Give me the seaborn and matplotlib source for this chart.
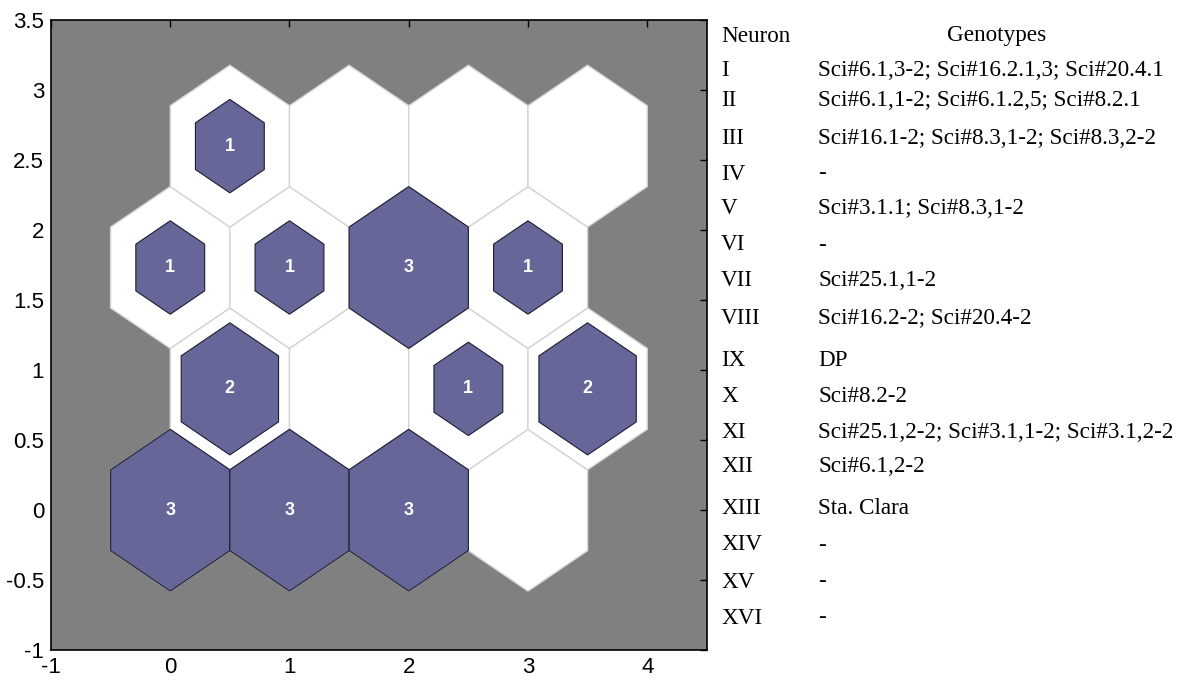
import numpy as np
import matplotlib
matplotlib.use("Agg")
import matplotlib.pyplot as plt
from matplotlib.patches import RegularPolygon
import seaborn as sns

# SOM hits (4x4 hexagonal grid, neuron order row by row from the bottom)
grid_rows = 4
grid_cols = 4
hits = [3, 3, 3, 0,
        2, 0, 1, 2,
        1, 1, 3, 1,
        1, 0, 0, 0]

neuron_labels = ["I", "II", "III", "IV", "V", "VI", "VII", "VIII",
                 "IX", "X", "XI", "XII", "XIII", "XIV", "XV", "XVI"]
genotypes = ["Sci#6.1,3-2; Sci#16.2.1,3; Sci#20.4.1",
             "Sci#6.1,1-2; Sci#6.1.2,5; Sci#8.2.1",
             "Sci#16.1-2; Sci#8.3,1-2; Sci#8.3,2-2",
             "-",
             "Sci#3.1.1; Sci#8.3,1-2",
             "-",
             "Sci#25.1,1-2",
             "Sci#16.2-2; Sci#20.4-2",
             "DP",
             "Sci#8.2-2",
             "Sci#25.1,2-2; Sci#3.1,1-2; Sci#3.1,2-2",
             "Sci#6.1,2-2",
             "Sta. Clara",
             "-",
             "-",
             "-"]

x_ticks = [-1, 0, 1, 2, 3, 4]
y_ticks = [-1, -0.5, 0, 0.5, 1, 1.5, 2, 2.5, 3, 3.5]
y_tick_labels = ["-1", "-0.5", "0", "0.5", "1", "1.5", "2", "2.5", "3", "3.5"]

sns.set_style("white")
plt.rcParams['axes.unicode_minus'] = False
plt.rcParams['text.color'] = 'black'
plt.rcParams['font.family'] = ['Liberation Sans', 'DejaVu Sans']

fig = plt.figure(figsize=(11.86, 6.81), dpi=100)
ax = fig.add_axes([0.043, 0.045, 0.553, 0.926])
ax.set_facecolor("#808080")

# hextop layout positions
pos = []
for r in range(grid_rows):
    for c in range(grid_cols):
        pos.append((c + 0.5 * (r % 2), r * np.sqrt(3) / 2))

radius = 1 / np.sqrt(3)
max_hits = max(hits)
for (x, y), h in zip(pos, hits):
    ax.add_patch(RegularPolygon((x, y), 6, radius=radius, facecolor="white",
                                edgecolor="#d4d4d4", linewidth=1.0, zorder=1))
for (x, y), h in zip(pos, hits):
    if h == 0:
        continue
    s = np.sqrt(h / max_hits)
    ax.add_patch(RegularPolygon((x, y), 6, radius=radius * s, facecolor="#666699",
                                edgecolor="#1e1e33", linewidth=0.8, zorder=2))
    ax.text(x, y, str(h), ha="center", va="center", color="white",
            fontsize=13, fontweight="bold", zorder=3)

ax.set_xlim(-1, 4.5)
ax.set_ylim(-1, 3.5)
ax.set_xticks(x_ticks)
ax.set_xticklabels([str(t) for t in x_ticks])
ax.set_yticks(y_ticks)
ax.set_yticklabels(y_tick_labels)
ax.tick_params(direction="in", length=5, width=1, top=True, right=True,
               labelsize=16, colors="black", pad=5)
for sp in ax.spines.values():
    sp.set_color("black")
    sp.set_linewidth(1.2)
ax.grid(False)

# legend table on the right
W, H = 1186, 681
serif = ['Liberation Serif', 'DejaVu Serif']
fs = 16.7
row_y = [71, 101, 138, 174, 209, 245, 281, 318, 361, 396, 432, 467, 509, 545, 582, 618]
fig.text(721 / W, 1 - 36 / H, "Neuron", family=serif, fontsize=fs, va="center", ha="left")
fig.text(997 / W, 1 - 36 / H, "Genotypes", family=serif, fontsize=fs, va="center", ha="center")
for lab, geno, yp in zip(neuron_labels, genotypes, row_y):
    fig.text(721 / W, 1 - yp / H, lab, family=serif, fontsize=fs, va="center", ha="left")
    fig.text(818 / W, 1 - yp / H, geno, family=serif, fontsize=fs, va="center", ha="left")

fig.savefig("out.png", dpi=100, facecolor="white")
plt.close(fig)
